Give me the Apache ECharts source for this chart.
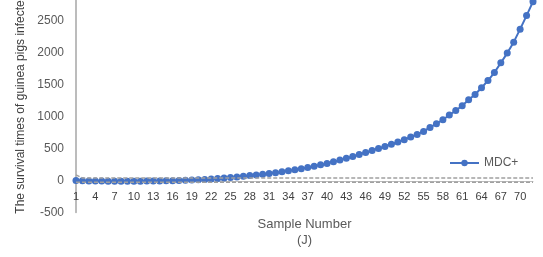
<!DOCTYPE html>
<html>
<head>
<meta charset="utf-8">
<script src="https://cdn.jsdelivr.net/npm/echarts@6/dist/echarts.min.js"></script>
<style>
html,body{margin:0;padding:0;background:#fff;}
#chart{width:543px;height:257px;}
</style>
</head>
<body>
<div id="chart"></div>
<script>
// Sample numbers 1..72
var categories = [];
for (var i = 1; i <= 72; i++) categories.push(String(i));

// MDC+ values
var mdcPlus = [
  0, -3, -5, -7, -8, -9, -10, -10, -10, -10,
  -9, -8, -7, -6, -4, -2, 1, 4, 8, 13,
  19, 25, 32, 40, 48, 57, 67, 78, 88, 99,
  111, 124, 138, 153, 169, 186, 204, 224, 246, 269,
  294, 320, 348, 377, 407, 438, 469, 501, 534, 568,
  603, 639, 682, 722, 769, 831, 889, 951, 1025, 1096,
  1170, 1263, 1346, 1450, 1564, 1689, 1840, 1992, 2163, 2366,
  2578, 2796
];

// Gray dashed reference lines near zero
var upperLine = [90];
for (var j = 1; j < 72; j++) upperLine.push(40);
var lowerLine = [];
for (var k = 0; k < 72; k++) lowerLine.push(-25);

var yTicks = { min: -500, max: 3000, interval: 500 };

var chart = echarts.init(document.getElementById('chart'), null, { renderer: 'canvas' });
var font = '"Liberation Sans", Arial, sans-serif';
chart.setOption({
  animation: false,
  backgroundColor: '#ffffff',
  textStyle: { fontFamily: font },
  grid: { left: 76, right: 10, top: -11.4, bottom: 44.4, containLabel: false, outerBoundsMode: 'none' },
  legend: {
    data: ['MDC+'],
    left: 449, top: 157,
    padding: 0,
    itemWidth: 29, itemHeight: 8,
    textStyle: { color: '#595959', fontSize: 12, fontFamily: font }
  },
  xAxis: {
    type: 'category',
    data: categories,
    boundaryGap: false,
    offset: -31.6,
    axisLine: { onZero: false, lineStyle: { color: '#bfbfbf', width: 1 } },
    axisTick: { show: false },
    axisLabel: { interval: 2, color: '#404040', fontSize: 11, margin: 10, fontFamily: font },
    name: 'Sample Number\n(J)',
    nameLocation: 'middle',
    nameGap: 35,
    nameTextStyle: { color: '#595959', fontSize: 13, lineHeight: 16, fontFamily: font },
    splitLine: { show: false }
  },
  yAxis: {
    type: 'value',
    min: yTicks.min, max: yTicks.max, interval: yTicks.interval,
    axisLine: { show: true, lineStyle: { color: '#a6a6a6', width: 1.5 } },
    axisTick: { show: false },
    axisLabel: { color: '#595959', fontSize: 12, margin: 12, fontFamily: font,
      formatter: function (v) { return String(v); } },
    splitLine: { show: false },
    name: 'The survival times of guinea pigs infected',
    nameLocation: 'middle',
    nameGap: 47,
    nameTextStyle: { color: '#404040', fontSize: 12, fontFamily: font, padding: [0, 6, 0, 0] }
  },
  series: [
    {
      name: 'MDC+',
      type: 'line',
      data: mdcPlus,
      symbol: 'circle',
      symbolSize: 7,
      showAllSymbol: true,
      lineStyle: { color: '#4472C4', width: 2 },
      itemStyle: { color: '#4472C4' },
      z: 2
    },
    {
      name: 'upper',
      type: 'line',
      data: upperLine,
      symbol: 'none',
      lineStyle: { color: '#a0a0a0', width: 1.5, type: [4, 2] },
      z: 3
    },
    {
      name: 'lower',
      type: 'line',
      data: lowerLine,
      symbol: 'none',
      lineStyle: { color: '#a0a0a0', width: 1.5, type: [4, 2] },
      z: 3
    }
  ]
});
</script>
</body>
</html>
